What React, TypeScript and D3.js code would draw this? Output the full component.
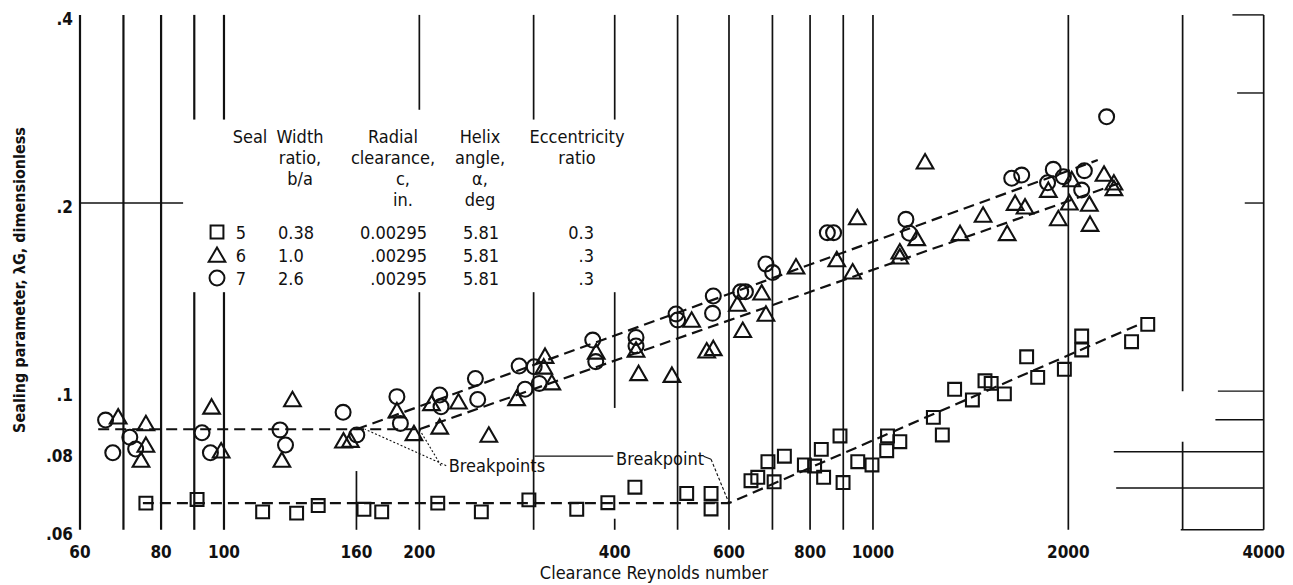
import { useEffect, useRef } from 'react';
import * as d3 from 'd3';

// [clearance Reynolds number, sealing parameter λG]
const seal5: [number, number][] = [
  [75.8, 0.0662], [90.9, 0.0671], [114.7, 0.0641], [129.4, 0.0638], [139.7, 0.0656],
  [164.3, 0.0647], [175, 0.0641], [213.5, 0.0662], [249.2, 0.0641], [295, 0.067],
  [349.6, 0.0647], [390.4, 0.0663], [429.7, 0.0702], [516.4, 0.0686], [563, 0.0686],
  [563, 0.0648], [648.7, 0.0719], [664.5, 0.0728], [688.9, 0.0771], [704.2, 0.0716],
  [730.3, 0.0787], [784, 0.0762], [813, 0.0759], [832.5, 0.0807], [839.4, 0.0728],
  [889.6, 0.0848], [899.3, 0.0714], [947.5, 0.0771], [996.5, 0.0762], [1053, 0.0848],
  [1050, 0.0803], [1100, 0.083], [1239, 0.0908], [1279, 0.0851], [1336, 0.1007],
  [1423, 0.0968], [1488, 0.1039], [1521, 0.1029], [1594, 0.099], [1725, 0.1135],
  [1794, 0.1052], [1972, 0.1084], [2097, 0.1225], [2097, 0.1164], [2503, 0.12],
  [2651, 0.1279],
];

const seal6: [number, number][] = [
  [68.7, 0.091], [75.8, 0.0888], [75.8, 0.082], [74.5, 0.0776], [95.7, 0.0944],
  [99, 0.0803], [127.5, 0.097], [122.8, 0.0776], [152.8, 0.0833], [156.6, 0.0835],
  [184.7, 0.0931], [196.2, 0.0856], [208.8, 0.0956], [215, 0.0877], [229.8, 0.0962],
  [255.9, 0.0851], [282.4, 0.0974], [320, 0.1032], [312.4, 0.1138], [311, 0.1094],
  [374.6, 0.1156], [431.4, 0.1164], [435.4, 0.1068], [490, 0.1061], [525.5, 0.13],
  [554.4, 0.1161], [567.5, 0.1171], [618, 0.1379], [630, 0.1252], [673.8, 0.1437],
  [684, 0.1329], [761, 0.1582], [879.5, 0.1625], [930.5, 0.1553], [946, 0.1897],
  [1203, 0.2329], [1168, 0.1756], [1100, 0.1672], [1100, 0.1641], [1362, 0.1789],
  [1478, 0.1914], [1610, 0.1789], [1656, 0.2], [1715, 0.1973], [1863, 0.2098],
  [1930, 0.189], [2007, 0.2002], [2024, 0.2182], [2155, 0.1993], [2160, 0.1851],
  [2270, 0.2226], [2351, 0.2155], [2351, 0.2111],
];

const seal7: [number, number][] = [
  [65.7, 0.0899], [67.4, 0.0797], [71.6, 0.0844], [73.1, 0.0808], [92.5, 0.0858],
  [95.3, 0.0797], [122, 0.0867], [124.4, 0.082], [152.6, 0.0925], [160.2, 0.0851],
  [184.7, 0.098], [187, 0.0888], [215, 0.0986], [216, 0.0944], [244, 0.1048],
  [246, 0.097], [291, 0.1007], [306, 0.1029], [285, 0.1097], [300.6, 0.1094],
  [370, 0.1207], [374, 0.1115], [431.4, 0.1219], [431.4, 0.1181], [497.3, 0.1329],
  [500, 0.13], [567.5, 0.142], [566, 0.1332], [625.5, 0.1442], [636, 0.1442],
  [684, 0.1598], [700.5, 0.1548], [850.5, 0.1793], [869.6, 0.1793], [1124, 0.1883],
  [1138, 0.1789], [1636, 0.2191], [1695, 0.2217], [1858, 0.2155], [1896, 0.2264],
  [1965, 0.2204], [2117, 0.2253], [2097, 0.2098], [2291, 0.2748],
];

// faired dashed curves
const fit5: [number, number][] = [[75, 0.0662], [600, 0.0662], [2600, 0.1285]];
const fitFlat: [number, number][] = [[64, 0.0869], [200, 0.0869]];
const fit7: [number, number][] = [[160, 0.0869], [2220, 0.2343]];
const fit6: [number, number][] = [[200, 0.0869], [2400, 0.2153]];

const xTicks = [60, 80, 100, 160, 200, 400, 600, 800, 1000, 2000, 4000];
const yTicks = [0.06, 0.08, 0.1, 0.2, 0.4];
const yTickLabels = ['.06', '.08', '.1', '.2', '.4'];

// vertical rules of the log paper, broken where the table sits
const gridX = [60, 70, 80, 90, 100, 160, 200, 300, 400, 500, 600, 700, 800, 900, 1000, 2000, 3000, 4000];
const gridPieces: Record<number, [number, number][]> = {
  90: [[0.06, 0.144], [0.272, 0.4]],
  100: [[0.06, 0.144], [0.272, 0.4]],
  160: [[0.06, 0.0745]],
  200: [[0.06, 0.144], [0.282, 0.4]],
  300: [[0.06, 0.144], [0.272, 0.4]],
  400: [[0.06, 0.0625], [0.094, 0.144], [0.272, 0.4]],
  3000: [[0.06, 0.083], [0.1, 0.4]],
};

// short horizontal rules at the right edge
const rightRuleValues = [0.4, 0.3, 0.2, 0.1, 0.09, 0.08, 0.07, 0.06];
const rightRuleFrom = [3580, 3640, 3740, 3400, 3370, 2350, 2370, 2980];

const legendRows = [
  { mark: 'square', seal: '5', width: '0.38', clearance: '0.00295', helix: '5.81', ecc: '0.3' },
  { mark: 'triangle', seal: '6', width: '1.0', clearance: '.00295', helix: '5.81', ecc: '.3' },
  { mark: 'circle', seal: '7', width: '2.6', clearance: '.00295', helix: '5.81', ecc: '.3' },
];

const legendHeads = [
  { x: 250, lines: ['Seal'] },
  { x: 300, lines: ['Width', 'ratio,', 'b/a'] },
  { x: 393, lines: ['Radial', 'clearance,', 'c,', 'in.'] },
  { x: 480, lines: ['Helix', 'angle,', 'α,', 'deg'] },
  { x: 577, lines: ['Eccentricity', 'ratio'] },
];

const FONT = "'DejaVu Sans Condensed', 'DejaVu Sans', sans-serif";
const INK = '#111';

export default function App() {
  const svgRef = useRef<SVGSVGElement>(null);

  useEffect(() => {
    const svg = d3.select(svgRef.current);
    svg.selectAll('*').remove();

    const x = d3.scaleLog().domain([60, 4000]).range([80, 1263.7]);
    const y = d3.scaleLog().domain([0.06, 0.4]).range([529.8, 14.9]);

    const g = svg.append('g');

    gridX.forEach(v => {
      const pieces = gridPieces[v] || [[0.06, 0.4]];
      pieces.forEach(([lo, hi]) => {
        g.append('line')
          .attr('x1', x(v)).attr('x2', x(v))
          .attr('y1', y(lo)).attr('y2', y(hi))
          .attr('stroke', INK)
          .attr('stroke-width', v <= 100 ? 2.2 : 1.7);
      });
    });

    rightRuleValues.forEach((v, i) => {
      g.append('line')
        .attr('x1', x(rightRuleFrom[i])).attr('x2', x(4000))
        .attr('y1', y(v)).attr('y2', y(v))
        .attr('stroke', INK).attr('stroke-width', 1.4);
    });

    // short rule at .2 on the left
    g.append('line')
      .attr('x1', x(60)).attr('x2', x(86.5))
      .attr('y1', y(0.2)).attr('y2', y(0.2))
      .attr('stroke', INK).attr('stroke-width', 1.4);

    // dashed fairings
    const line = d3.line<[number, number]>().x(d => x(d[0])).y(d => y(d[1]));
    [fit5, fitFlat, fit7, fit6].forEach(pts => {
      g.append('path')
        .attr('d', line(pts))
        .attr('fill', 'none')
        .attr('stroke', INK)
        .attr('stroke-width', 2.2)
        .attr('stroke-dasharray', '11,6');
    });

    const symbols: Record<string, string> = {
      square: d3.symbol(d3.symbolSquare, 165)() as string,
      triangle: d3.symbol(d3.symbolTriangle, 120)() as string,
      circle: d3.symbol(d3.symbolCircle, 175)() as string,
    };
    const drop: Record<string, number> = { square: 0, triangle: 2, circle: 0 };

    const drawMarks = (pts: [number, number][], kind: string) => {
      g.append('g')
        .selectAll('path')
        .data(pts)
        .join('path')
        .attr('d', symbols[kind])
        .attr('transform', d => `translate(${x(d[0])},${y(d[1]) + drop[kind]})`)
        .attr('fill', 'none')
        .attr('stroke', INK)
        .attr('stroke-width', 2.1);
    };
    drawMarks(seal5, 'square');
    drawMarks(seal6, 'triangle');
    drawMarks(seal7, 'circle');

    // axis tick labels
    g.append('g')
      .selectAll('text')
      .data(xTicks)
      .join('text')
      .attr('x', d => x(d))
      .attr('y', 558)
      .attr('text-anchor', 'middle')
      .attr('font-family', FONT)
      .attr('font-weight', 'bold')
      .attr('font-size', 17)
      .attr('fill', INK)
      .text(d => String(d));

    g.append('g')
      .selectAll('text')
      .data(yTicks)
      .join('text')
      .attr('x', 73)
      .attr('y', d => y(d) + 10)
      .attr('text-anchor', 'end')
      .attr('font-family', FONT)
      .attr('font-weight', 'bold')
      .attr('font-size', 17)
      .attr('fill', INK)
      .text((d, i) => yTickLabels[i]);

    g.append('text')
      .attr('x', 654)
      .attr('y', 579)
      .attr('text-anchor', 'middle')
      .attr('font-family', FONT)
      .attr('font-size', 18)
      .attr('fill', INK)
      .text('Clearance Reynolds number');

    g.append('text')
      .attr('transform', 'translate(25,280) rotate(-90)')
      .attr('text-anchor', 'middle')
      .attr('font-family', FONT)
      .attr('font-weight', 'bold')
      .attr('font-size', 16)
      .attr('fill', INK)
      .text('Sealing parameter, λG, dimensionless');

    // legend table
    const tbl = g.append('g')
      .attr('font-family', FONT)
      .attr('font-size', 18)
      .attr('fill', INK);

    legendHeads.forEach(h => {
      h.lines.forEach((s, i) => {
        tbl.append('text')
          .attr('x', h.x + (s === 'c,' || s === 'in.' ? 10 : 0))
          .attr('y', 143 + i * 21)
          .attr('text-anchor', 'middle')
          .text(s);
      });
    });

    legendRows.forEach((r, i) => {
      const cy = 232 + i * 23;
      const base = cy + 7;
      tbl.append('path')
        .attr('d', symbols[r.mark])
        .attr('transform', `translate(217,${cy + drop[r.mark]})`)
        .attr('fill', 'none')
        .attr('stroke', INK)
        .attr('stroke-width', 2);
      tbl.append('text').attr('x', 241).attr('y', base).attr('text-anchor', 'middle').text(r.seal);
      tbl.append('text').attr('x', 278).attr('y', base).text(r.width);
      tbl.append('text').attr('x', 427).attr('y', base).attr('text-anchor', 'end').text(r.clearance);
      tbl.append('text').attr('x', 463).attr('y', base).text(r.helix);
      tbl.append('text').attr('x', 594).attr('y', base).attr('text-anchor', 'end').text(r.ecc);
    });

    // breakpoint call-outs
    const note = g.append('g')
      .attr('font-family', FONT)
      .attr('font-size', 18)
      .attr('fill', INK);

    note.append('text').attr('x', x(222)).attr('y', y(0.0742)).text('Breakpoints');
    [[165, 0.0869], [200, 0.0869]].forEach(([re, lg], i) => {
      note.append('line')
        .attr('x1', x(i === 0 ? 220 : 216)).attr('y1', y(0.076))
        .attr('x2', x(re)).attr('y2', y(lg))
        .attr('stroke', INK).attr('stroke-width', 1.1)
        .attr('stroke-dasharray', '2,2');
    });

    note.append('text').attr('x', x(402)).attr('y', y(0.0763)).text('Breakpoint');
    note.append('line')
      .attr('x1', x(301)).attr('x2', x(398))
      .attr('y1', y(0.0787)).attr('y2', y(0.0787))
      .attr('stroke', INK).attr('stroke-width', 1.1);
    note.append('path')
      .attr('d', line([[548, 0.0787], [563, 0.0778]]))
      .attr('fill', 'none').attr('stroke', INK).attr('stroke-width', 1.1);
    note.append('path')
      .attr('d', line([[563, 0.0778], [600, 0.0662]]))
      .attr('fill', 'none').attr('stroke', INK).attr('stroke-width', 1.1)
      .attr('stroke-dasharray', '3,2');
  }, []);

  return (
    <svg
      ref={svgRef}
      width={1293}
      height={585}
      style={{ position: 'absolute', left: 0, top: 0, background: '#fff', display: 'block' }}
    />
  );
}
